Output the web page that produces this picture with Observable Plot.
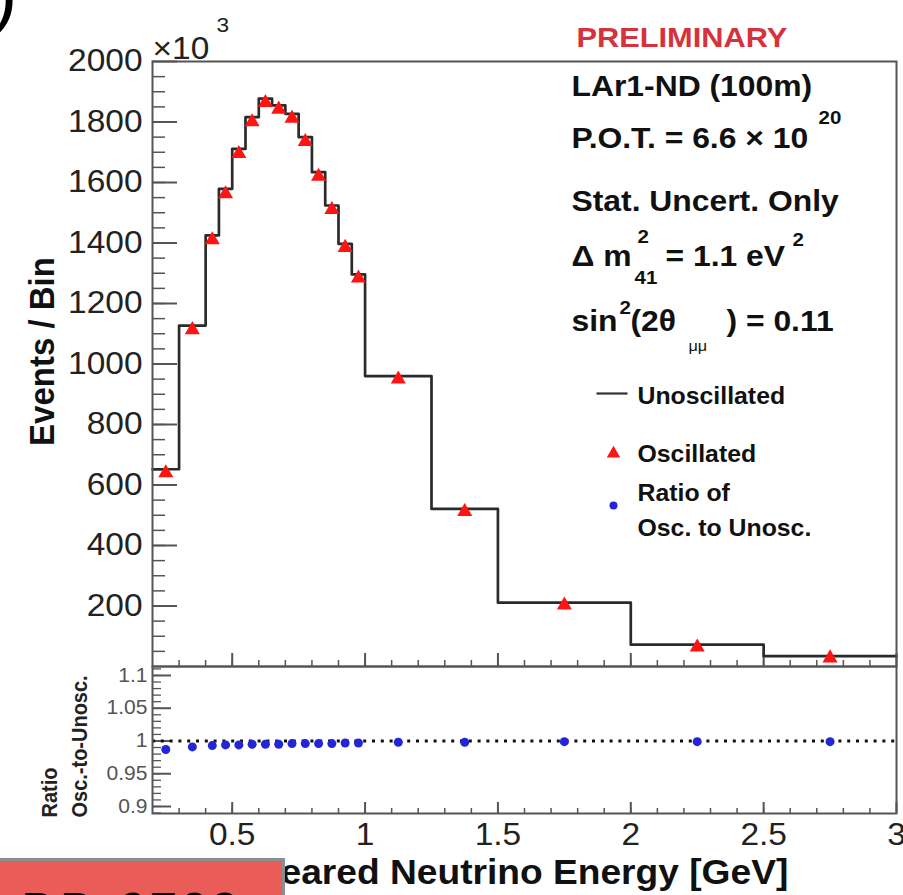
<!DOCTYPE html>
<html><head><meta charset="utf-8">
<script src="https://cdn.jsdelivr.net/npm/d3@7"></script>
<script src="https://cdn.jsdelivr.net/npm/@observablehq/plot@0.6"></script>
<style>
html,body{margin:0;padding:0;background:#fff;}
#wrap{position:relative;width:903px;height:895px;overflow:hidden;font-family:"Liberation Sans",Arial,Helvetica,sans-serif;}
#top,#bottom{position:absolute;left:0;}
#top{top:0;} #bottom{top:660px;}
#stamp{position:absolute;left:0;top:858px;width:282px;height:60px;background:#e95c57;border-top:3px solid #8a8d91;border-right:3px solid #8a8d91;overflow:hidden;}
#stamp span{position:absolute;left:22px;top:25px;font-size:48px;font-weight:bold;line-height:1;color:#000;white-space:nowrap;letter-spacing:4px;}
</style></head><body>
<div id="wrap"><div id="bottom"></div><div id="top"></div><div id="stamp"><span>DD-0709</span></div></div>
<script>
// ---- data ----
const binEdges = [0.2,0.3,0.4,0.45,0.5,0.55,0.6,0.65,0.7,0.75,0.8,0.85,0.9,0.95,1.0,1.25,1.5,2.0,2.5,3.0];
const binCenters = [0.25,0.35,0.425,0.475,0.525,0.575,0.625,0.675,0.725,0.775,0.825,0.875,0.925,0.975,1.125,1.375,1.75,2.25,2.75];
const unoscillated = [652,1127,1425,1579,1711,1816,1877,1855,1827,1750,1634,1524,1397,1296,960,521,211,72,34];
const oscillated = [640,1113,1410,1562,1695,1800,1864,1842,1812,1735,1620,1510,1385,1284,950,512,203,64,28];
const ratioOscToUnosc = [0.987,0.991,0.993,0.994,0.994,0.995,0.995,0.995,0.996,0.996,0.996,0.996,0.997,0.997,0.998,0.998,0.999,0.999,0.999];

const yTickValues = [200,400,600,800,1000,1200,1400,1600,1800,2000];
const yTickLabels = ["200","400","600","800","1000","1200","1400","1600","1800","2000"];
const xTickValues = [0.5,1,1.5,2,2.5,3];
const xTickLabels = ["0.5","1","1.5","2","2.5","3"];
const ratioTickValues = [0.9,0.95,1,1.05,1.1];
const ratioTickLabels = ["0.9","0.95","1","1.05","1.1"];

const xDomain = [0.2, 3.0];
const yDomain = [0, 2000];
const ratioDomain = [0.8893, 1.1137];

// ---- layout ----
const W = 903, ML = 152, MR = 7;
const MT1 = 61, H1 = 668, MB1 = 2;
const TOP2 = 660, MT2 = 6, H2 = 235, MB2 = 82;
const plotW = W - ML - MR;
const plotH1 = H1 - MT1 - MB1;
const plotH2 = H2 - MT2 - MB2;
const SX = 1.08;
const FONT = '"Liberation Sans", Arial, Helvetica, sans-serif';

const yMinor = d3.range(50, 2000, 50);
const xMinor = d3.range(3, 30).map(v => v / 10);
const rMinor = d3.range(89, 112).map(v => v / 100);

const stepPts = binEdges.map((e, i) => ({x: e, y: unoscillated[Math.min(i, unoscillated.length - 1)]}));
const oscPts = binCenters.map((c, i) => ({x: c, y: oscillated[i]}));
const ratioPts = binCenters.map((c, i) => ({x: c, y: ratioOscToUnosc[i]}));

function ann(txt, X, Y, o = {}, svgTop = 0, mt = MT1) {
  return Plot.text([txt], {
    text: d => d, frameAnchor: "top-left", dx: X - ML, dy: Y - svgTop - mt,
    textAnchor: "start", lineAnchor: "bottom", fontSize: 29.5, fontWeight: "bold", fill: "#111", ...o
  });
}
function marker(X, Y, o) {
  return Plot.dot([0], {frameAnchor: "top-left", dx: X - ML, dy: Y - MT1, ...o});
}
const lineSym = {draw(ctx) { ctx.moveTo(-16, 0); ctx.lineTo(15, 0); }};

function stretch(svg) {
  svg.querySelectorAll("text").forEach(t => {
    const tr = t.getAttribute("transform");
    if (tr) t.setAttribute("transform", tr.replace(/^(translate\([^)]*\))/, `$1 scale(${SX},1)`));
  });
  return svg;
}

const topPlot = Plot.plot({
  width: W, height: H1,
  marginLeft: ML, marginRight: MR, marginTop: MT1, marginBottom: MB1,
  style: {background: "transparent", fontFamily: FONT, overflow: "visible"},
  x: {domain: xDomain, axis: null},
  y: {domain: yDomain, axis: null},
  marks: [
    Plot.tickY(yMinor, {y: d => d, insetRight: plotW - 13, stroke: "#555", strokeWidth: 1.5}),
    Plot.tickY(yTickValues, {y: d => d, insetRight: plotW - 25, stroke: "#555", strokeWidth: 2}),
    Plot.tickX(xMinor, {x: d => d, insetTop: plotH1 - 6, stroke: "#555", strokeWidth: 1.5}),
    Plot.tickX(xTickValues, {x: d => d, insetTop: plotH1 - 13, stroke: "#555", strokeWidth: 2}),
    Plot.line(stepPts, {x: "x", y: "y", curve: "step-after", stroke: "#2b2b2b", strokeWidth: 2.7}),
    Plot.dot(oscPts, {x: "x", y: "y", symbol: "triangle", r: 5.6, fill: "#ff1414"}),
    Plot.frame({stroke: "#555", strokeWidth: 2}),
    Plot.text(yTickLabels, {text: d => d, y: (d, i) => yTickValues[i], frameAnchor: "left", dx: -10, textAnchor: "end", fontSize: 31, fill: "#222"}),
    ann("Events / Bin", 42, 351, {rotate: -90, textAnchor: "middle", lineAnchor: "middle", fontSize: 33}),
    ann("×10", 152, 58, {fontWeight: "normal", fontSize: 31, fill: "#222"}),
    ann("3", 216, 31, {fontWeight: "normal", fontSize: 21, fill: "#222"}),
    ann("D)", 17, 18, {textAnchor: "end", fontWeight: "normal", fontSize: 72, fill: "#000"}),
    // statistics block
    ann("PRELIMINARY", 576, 46, {fontSize: 28.5, fill: "#d6323c"}),
    ann("LAr1-ND (100m)", 571, 95),
    ann("P.O.T. = 6.6 × 10", 571, 147),
    ann("20", 818, 123, {fontSize: 19}),
    ann("Stat. Uncert. Only", 571, 210),
    ann("Δ m", 571, 265),
    ann("2", 637, 242, {fontSize: 19}),
    ann("41", 634, 283, {fontSize: 19}),
    ann("= 1.1 eV", 665, 265),
    ann("2", 792, 245, {fontSize: 19}),
    ann("sin", 571, 330),
    ann("2", 619, 313, {fontSize: 19}),
    ann("(2θ", 630, 330),
    ann("μμ", 688, 350, {fontSize: 15, fontWeight: "normal"}),
    ann(") = 0.11", 726, 330),
    // legend
    marker(612, 393, {symbol: lineSym, stroke: "#333", strokeWidth: 2.2, fill: "none"}),
    ann("Unoscillated", 637, 403, {fontSize: 23}),
    marker(613, 453, {symbol: "triangle", r: 5, fill: "#ff1414"}),
    ann("Oscillated", 637, 461, {fontSize: 23}),
    marker(613, 505, {symbol: "circle", r: 4, fill: "#2424d8"}),
    ann("Ratio of\nOsc. to Unosc.", 637, 535, {fontSize: 23, lineHeight: 1.52})
  ]
});

const bottomPlot = Plot.plot({
  width: W, height: H2,
  marginLeft: ML, marginRight: MR, marginTop: MT2, marginBottom: MB2,
  style: {background: "transparent", fontFamily: FONT, overflow: "visible"},
  x: {domain: xDomain, axis: null},
  y: {domain: ratioDomain, axis: null},
  marks: [
    Plot.tickY(rMinor, {y: d => d, insetRight: plotW - 9, stroke: "#555", strokeWidth: 1.3}),
    Plot.tickY(ratioTickValues, {y: d => d, insetRight: plotW - 19, stroke: "#555", strokeWidth: 2}),
    Plot.tickX(xMinor, {x: d => d, insetTop: plotH2 - 5, stroke: "#555", strokeWidth: 1.5}),
    Plot.tickX(xTickValues, {x: d => d, insetTop: plotH2 - 11, stroke: "#555", strokeWidth: 2}),
    Plot.ruleY([1], {stroke: "#111", strokeWidth: 3, strokeDasharray: "3,5.8"}),
    Plot.dot(ratioPts, {x: "x", y: "y", r: 4.5, fill: "#2424d8"}),
    Plot.frame({stroke: "#555", strokeWidth: 2}),
    Plot.text(ratioTickLabels, {text: d => d, y: (d, i) => ratioTickValues[i], frameAnchor: "left", dx: -5, textAnchor: "end", fontSize: 19.5, fill: "#555"}),
    Plot.text(xTickLabels, {text: d => d, x: (d, i) => xTickValues[i], frameAnchor: "bottom", dy: 22, lineAnchor: "middle", fontSize: 31, fill: "#222"}),
    ann("Smeared Neutrino Energy [GeV]", 505, 883, {textAnchor: "middle", fontSize: 34.4, fill: "#111"}, TOP2, MT2),
    ann("Ratio\nOsc.-to-Unosc.", 62, 817, {rotate: -90, textAnchor: "start", lineAnchor: "middle", fontSize: 20, lineHeight: 1.4, fill: "#222"}, TOP2, MT2)
  ]
});

document.getElementById("top").appendChild(stretch(topPlot));
document.getElementById("bottom").appendChild(stretch(bottomPlot));
</script>
</body></html>
